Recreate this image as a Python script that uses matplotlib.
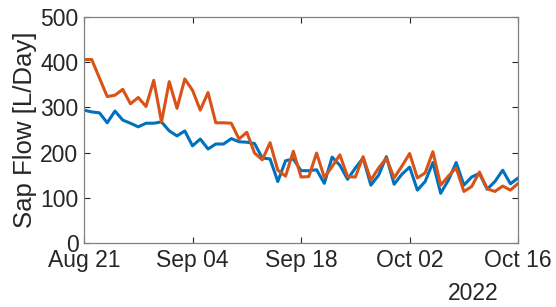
import matplotlib

matplotlib.use("Agg")
import matplotlib.dates as mdates
import matplotlib.pyplot as plt
import pandas as pd

plt.rcParams["font.family"] = ["Liberation Sans", "DejaVu Sans"]

START_DATE = "2022-08-21"
END_DATE = "2022-10-16"
TICK_DATES = ["2022-08-21", "2022-09-04", "2022-09-18", "2022-10-02", "2022-10-16"]
Y_TICKS = [0, 100, 200, 300, 400, 500]

# daily sap flow, L/day
blue_flow = [
    294, 290, 288, 266, 292, 272, 265, 257, 265, 265,
    268, 248, 237, 248, 215, 230, 208, 219, 219, 231,
    224, 223, 220, 188, 186, 136, 182, 186, 160, 160,
    162, 132, 190, 172, 141, 166, 188, 128, 150, 191,
    130, 152, 168, 117, 136, 178, 110, 139, 178, 128,
    146, 154, 119, 136, 161, 131, 144,
]
orange_flow = [
    406, 406, 365, 324, 327, 340, 308, 322, 302, 360,
    268, 357, 298, 363, 338, 294, 333, 266, 266, 265,
    230, 245, 199, 184, 222, 161, 148, 203, 146, 147,
    199, 145, 169, 195, 147, 146, 191, 139, 166, 188,
    144, 170, 198, 144, 155, 202, 128, 148, 166, 114,
    125, 157, 120, 114, 126, 117, 132,
]

BLUE = "#0072BD"
ORANGE = "#D95319"
AXIS_GRAY = "#262626"

dates = pd.date_range(START_DATE, END_DATE, freq="D")

fig = plt.figure(figsize=(5.56, 3.07), dpi=100)
ax = fig.add_axes([0.151, 0.2085, 0.781, 0.736])

ax.plot(dates, blue_flow, color=BLUE, linewidth=2.2)
ax.plot(dates, orange_flow, color=ORANGE, linewidth=2.2)

ax.set_xlim(pd.Timestamp(START_DATE), pd.Timestamp(END_DATE))
ax.set_ylim(0, 500)
ax.set_yticks(Y_TICKS)
ax.set_xticks(pd.to_datetime(TICK_DATES))
ax.xaxis.set_major_formatter(mdates.DateFormatter("%b %d"))

ax.set_ylabel("Sap Flow [L/Day]", fontsize=18.5, color=AXIS_GRAY, labelpad=2)
ax.tick_params(
    axis="both", direction="in", length=4, width=0.8, colors=AXIS_GRAY,
    labelsize=16.5, top=True, right=True, pad=4,
)
for spine in ax.spines.values():
    spine.set_color("#808080")
    spine.set_linewidth(0.9)

fig.text(0.896, 0.024, "2022", ha="right", va="baseline", fontsize=16.5, color=AXIS_GRAY)

fig.savefig("out.png", dpi=100)
